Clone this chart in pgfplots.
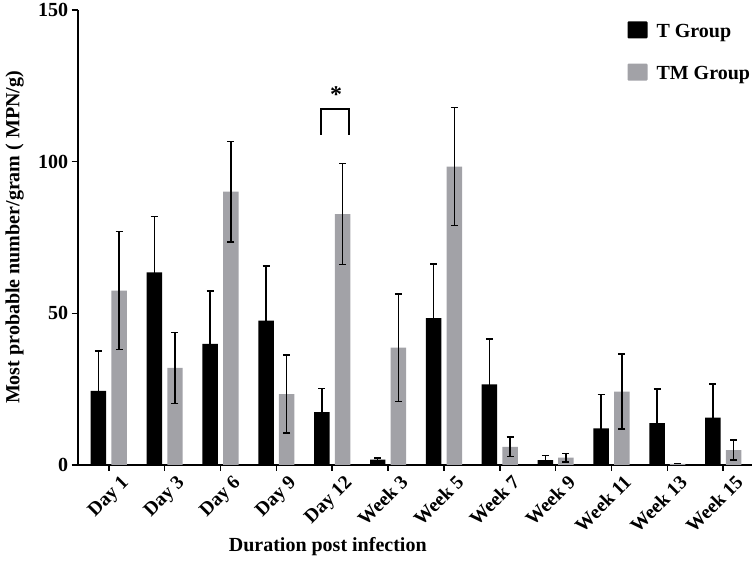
\documentclass[border=0pt]{standalone}
\usepackage{fontspec}
\setmainfont{Liberation Serif}
\usepackage{pgfplots}
\usepackage{pgfplotstable}
\pgfplotsset{compat=1.18}
\usetikzlibrary{calc}
\definecolor{tmgray}{RGB}{162,162,167}

\pgfplotstableread{
x T Terr TM TMerr
0 24.4 13.2 57.5 19.4
1 63.5 18.4 32.0 11.7
2 39.9 17.5 90.1 16.6
3 47.6 18.0 23.4 12.9
4 17.4 7.8 82.7 16.6
5 1.8 0.5 38.7 17.7
6 48.4 17.9 98.4 19.4
7 26.6 15.0 6.0 3.2
8 1.6 1.5 2.4 1.4
9 12.1 11.2 24.2 12.4
10 13.8 11.3 0.4 0
11 15.6 11.1 4.9 3.3
}\datatable

\begin{document}
\begin{tikzpicture}
\begin{axis}[
  scale only axis, width=674pt, height=455pt,
  xmin=-0.557, xmax=11.51, ymin=0, ymax=150,
  axis lines=left,
  axis line style={line width=1.8pt, -},
  xtick={0,...,11},
  xticklabels={Day 1,Day 3,Day 6,Day 9,Day 12,Week 3,Week 5,Week 7,Week 9,Week 11,Week 13,Week 15},
  x tick label style={rotate=45, anchor=north east, font=\bfseries\fontsize{19.5}{21}\selectfont, inner sep=1pt, xshift=7pt, yshift=-9pt},
  ytick={0,50,100,150},
  y tick label style={font=\bfseries\fontsize{20}{22}\selectfont},
  /pgf/number format/assume math mode=true,
  tick align=outside, major tick length=6pt,
  tick style={line width=1.6pt, black},
  ylabel={Most probable number/gram ( MPN/g)},
  ylabel style={at={(axis description cs:-0.0936,0.5)}, anchor=center, font=\bfseries\fontsize{20}{22}\selectfont},
  xlabel={Duration post infection},
  xlabel style={at={(axis description cs:0.371,-0.19)}, anchor=base, font=\bfseries\fontsize{20}{22}\selectfont},
  legend style={at={(0.811,0.98)}, anchor=north west, draw=none, fill=none,
    font=\bfseries\fontsize{20}{22}\selectfont, row sep=23pt,
    /tikz/every odd column/.append style={column sep=7pt}},
  legend cell align=left,
  clip=false,
]
\addplot[ybar, bar width=0.277, bar shift=0pt, fill=black, draw=none,
  legend image code/.code={\fill[black, rounded corners=1pt] (0pt,-7pt) rectangle (20pt,10pt);},
  error bars/.cd, y dir=both, y explicit,
  error bar style={line width=1.4pt, black},
  error mark options={rotate=90, mark size=3.5pt, line width=1.4pt, black}]
  table[x expr=\thisrow{x}-0.185, y=T, y error=Terr]{\datatable};
\addplot[ybar, bar width=0.277, bar shift=0pt, fill=tmgray, draw=none,
  legend image code/.code={\fill[tmgray, rounded corners=1pt] (0pt,-7pt) rectangle (20pt,10pt);},
  error bars/.cd, y dir=both, y explicit,
  error bar style={line width=1.4pt, black},
  error mark options={rotate=90, mark size=3.5pt, line width=1.4pt, black}]
  table[x expr=\thisrow{x}+0.185, y=TM, y error=TMerr]{\datatable};
\addplot[black, line width=1.4pt, mark=none, forget plot] coordinates {(3.80,108.8) (3.80,117.3) (4.30,117.3) (4.30,108.8)};
\node[font=\bfseries\fontsize{24}{26}\selectfont] at (axis cs:4.07,122) {*};
\legend{T Group, TM Group}
\end{axis}
\pgfresetboundingbox
\path ($(current axis.south west)+(-77.7pt,-109pt)$) rectangle ($(current axis.north east)+(4.3pt,10pt)$);
\end{tikzpicture}
\end{document}
